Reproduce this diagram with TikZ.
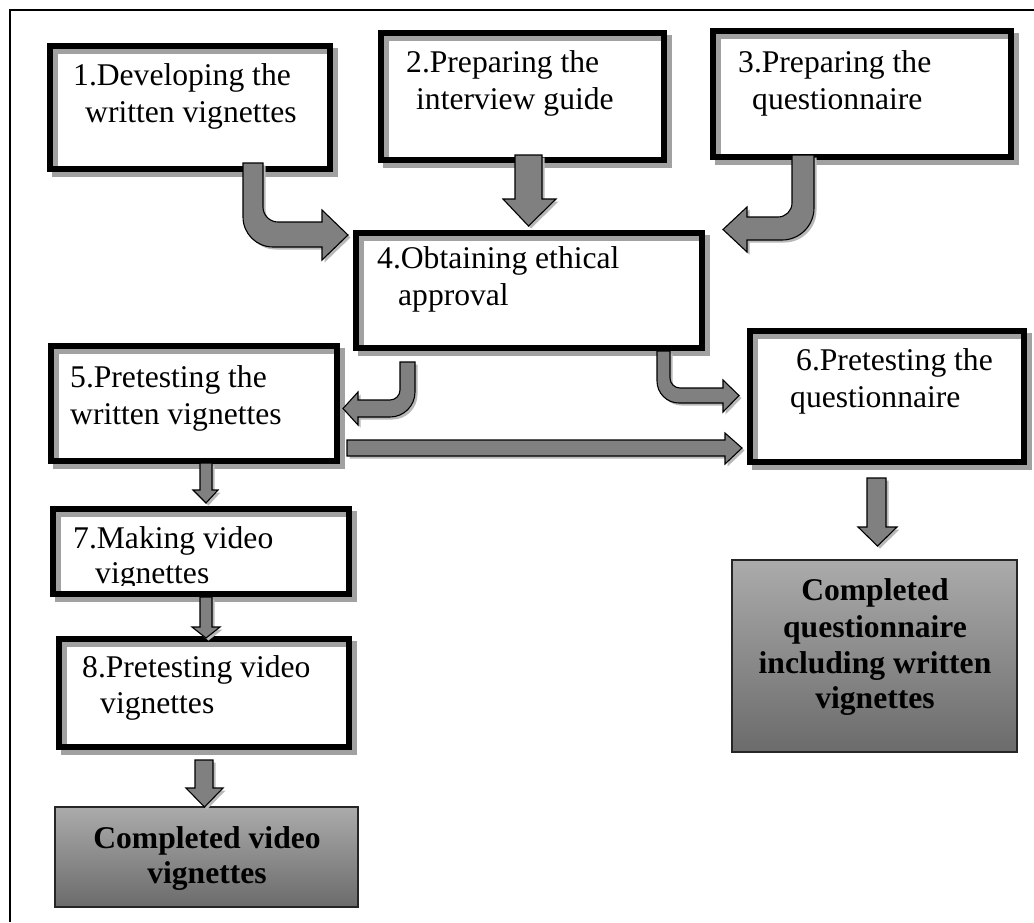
\documentclass[tikz,border=0pt]{standalone}
\usepackage{fontspec}
\setmainfont{Liberation Serif}
\usetikzlibrary{fit}

% framed step box: gray offset outline behind a heavy black outline
\newcommand\stepbox[5]{%
  \draw[boxshadow, shift={(5,5)}] (#2,#3) rectangle (#4,#5);
  \path (#2,#3) coordinate (#1-nw) (#4,#5) coordinate (#1-se);
  \node[boxframe, fit=(#1-nw)(#1-se)] (#1) {};
}
% block arrow with a soft drop shadow
\newcommand\blockarrow[1]{%
  \fill[arrowshadow, shift={(2.5,2.5)}] #1;
  \filldraw[arrowbody] #1;
}

\begin{document}
\begin{tikzpicture}[x=1pt, y=-1pt,
  boxframe/.style={rectangle, draw=black, line width=6pt, inner sep=0pt},
  boxshadow/.style={draw=black!37, line width=6pt},
  arrowbody/.style={fill=black!50, draw=black, line width=1.1pt, line join=miter},
  arrowshadow/.style={fill=black!28},
  boxtext/.style={anchor=base west, inner sep=0pt, font=\fontsize{31.6}{37}\selectfont},
  result/.style={rectangle, draw=black!85, line width=1.2pt, inner sep=0pt,
                 top color=black!33, bottom color=black!58},
  resulttext/.style={anchor=base, inner sep=0pt, font=\fontsize{31.6}{37}\selectfont\bfseries},
]
\useasboundingbox (0,0) rectangle (1034,922);
\fill[white] (0,0) rectangle (1034,922);

% outer frame
\draw[line width=2.5pt] (1034,10) -- (10,10) -- (10,922);

% step boxes
\stepbox{b1}{50}{46}{330}{169}
\stepbox{b2}{381}{33}{664}{160}
\stepbox{b3}{713}{31}{1011}{157}
\stepbox{b4}{356}{233}{702}{348}
\stepbox{b5}{51}{346}{337}{461}
\stepbox{b6}{750}{331}{1024}{462}
\stepbox{b7}{53}{509}{349}{594}
\stepbox{b8}{59}{639}{349}{747}

% outcome boxes
\path (55,807) coordinate (cv-nw) (358,907) coordinate (cv-se);
\node[result, fit=(cv-nw)(cv-se)] (cv) {};
\path (732,560) coordinate (cq-nw) (1017,752) coordinate (cq-se);
\node[result, fit=(cq-nw)(cq-se)] (cq) {};

% box texts
\node[boxtext] (t1a) at (73,85) {1.Developing the};
\node[boxtext] (t1b) at (85,122) {written vignettes};
\node[boxtext] (t2a) at (406,72) {2.Preparing the};
\node[boxtext] (t2b) at (416,109) {interview guide};
\node[boxtext] (t3a) at (738,72) {3.Preparing the};
\node[boxtext] (t3b) at (752,109) {questionnaire};
\node[boxtext] (t4a) at (377,268) {4.Obtaining ethical};
\node[boxtext] (t4b) at (398,305) {approval};
\node[boxtext] (t5a) at (70,387) {5.Pretesting the};
\node[boxtext] (t5b) at (70,424) {written vignettes};
\node[boxtext] (t6a) at (796,370) {6.Pretesting the};
\node[boxtext] (t6b) at (790,407) {questionnaire};
\node[boxtext] (t7a) at (73,548) {7.Making video};
\begin{scope}
  \clip (57,512) rectangle (346,585);
  \node[boxtext] (t7b) at (95,583) {vignettes};
\end{scope}
\node[boxtext] (t8a) at (82,677) {8.Pretesting video};
\node[boxtext] (t8b) at (100,713) {vignettes};

\node[resulttext] (tcq1) at (875,600) {Completed};
\node[resulttext] (tcq2) at (875,637) {questionnaire};
\node[resulttext] (tcq3) at (875,673) {including written};
\node[resulttext] (tcq4) at (875,708) {vignettes};
\node[resulttext] (tcv1) at (207,848) {Completed video};
\node[resulttext] (tcv2) at (207,883) {vignettes};

% bent arrow: 1 -> 4
\blockarrow{(243,163) [rounded corners=30pt] -- (243,247) [sharp corners] -- (322,247)
  -- (322,260) -- (348,235) -- (322,210) -- (322,222)
  [rounded corners=15pt] -- (263,222) [sharp corners] -- (263,163) -- cycle}
% straight arrow: 2 -> 4
\blockarrow{(515,155) -- (515,199) -- (503,199) -- (528.5,226) -- (556,199)
  -- (542,199) -- (542,155) -- cycle}
% bent arrow: 3 -> 4
\blockarrow{(792,155) [rounded corners=14pt] -- (792,217) [sharp corners] -- (747,217)
  -- (747,207) -- (723,229.5) -- (747,252) -- (747,240)
  [rounded corners=32pt] -- (814,240) [sharp corners] -- (814,155) -- cycle}
% bent arrow: 4 -> 5
\blockarrow{(400,362) [rounded corners=10pt] -- (400,400) [sharp corners] -- (358,400)
  -- (358,392) -- (343,408.5) -- (358,425) -- (358,417)
  [rounded corners=25pt] -- (415,417) [sharp corners] -- (415,362) -- cycle}
% bent arrow: 4 -> 6
\blockarrow{(657,351) [rounded corners=22pt] -- (657,403) [sharp corners] -- (723,403)
  -- (723,412) -- (739,395.5) -- (723,380) -- (723,388)
  [rounded corners=10pt] -- (670,388) [sharp corners] -- (670,351) -- cycle}
% straight arrow: 5 -> 6
\blockarrow{(347,440) -- (725,440) -- (725,433) -- (742,448) -- (725,464)
  -- (725,456) -- (347,456) -- cycle}
% straight arrow: 5 -> 7
\blockarrow{(200,463) -- (200,490) -- (193,490) -- (206,503) -- (218,490)
  -- (212,490) -- (212,463) -- cycle}
% straight arrow: 7 -> 8
\blockarrow{(200,597) -- (200,627) -- (192,627) -- (206,638) -- (220,627)
  -- (212,627) -- (212,597) -- cycle}
% straight arrow: 8 -> completed video vignettes
\blockarrow{(195,760) -- (195,788) -- (186,788) -- (204.5,807) -- (223,788)
  -- (213,788) -- (213,760) -- cycle}
% straight arrow: 6 -> completed questionnaire
\blockarrow{(867,478) -- (867,527) -- (858,527) -- (877.5,546) -- (897,527)
  -- (886,527) -- (886,478) -- cycle}
\end{tikzpicture}
\end{document}
